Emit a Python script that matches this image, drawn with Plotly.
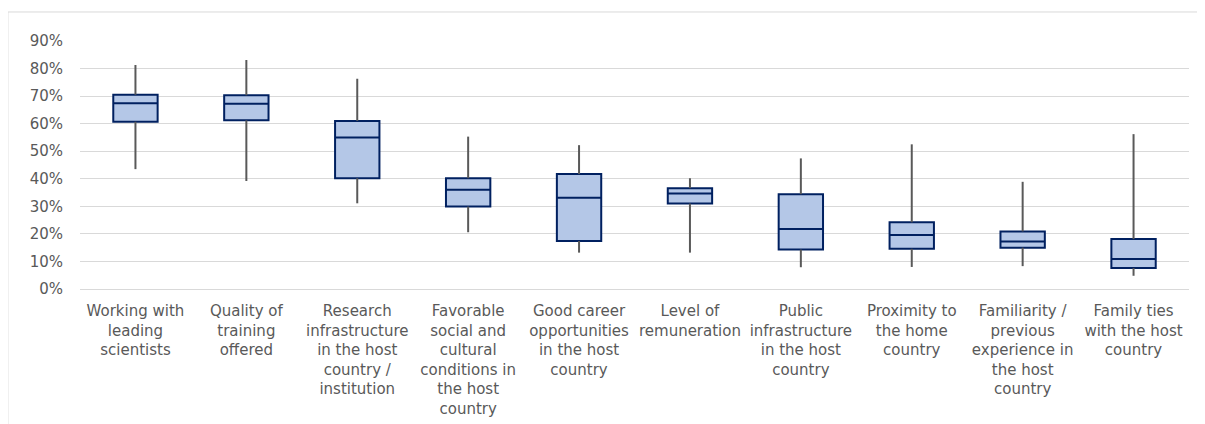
import plotly.graph_objects as go

categories = [
    "Working with<br>leading<br>scientists",
    "Quality of<br>training<br>offered",
    "Research<br>infrastructure<br>in the host<br>country /<br>institution",
    "Favorable<br>social and<br>cultural<br>conditions in<br>the host<br>country",
    "Good career<br>opportunities<br>in the host<br>country",
    "Level of<br>remuneration",
    "Public<br>infrastructure<br>in the host<br>country",
    "Proximity to<br>the home<br>country",
    "Familiarity /<br>previous<br>experience in<br>the host<br>country",
    "Family ties<br>with the host<br>country",
]

# shares (0-1)
low = [0.435, 0.392, 0.311, 0.206, 0.132, 0.132, 0.079, 0.080, 0.083, 0.048]
q1 = [0.607, 0.612, 0.402, 0.299, 0.174, 0.310, 0.143, 0.146, 0.150, 0.076]
median = [0.674, 0.672, 0.550, 0.360, 0.331, 0.347, 0.218, 0.196, 0.172, 0.109]
q3 = [0.705, 0.703, 0.610, 0.402, 0.417, 0.366, 0.344, 0.242, 0.209, 0.181]
high = [0.813, 0.831, 0.763, 0.553, 0.522, 0.402, 0.474, 0.525, 0.389, 0.562]

tick_vals = [i / 10 for i in range(10)]
tick_text = [f"{i * 10}%" for i in range(10)]

# whiskers drawn as gray segments, box on top
wx, wy = [], []
for c, lo, a, b, hi in zip(categories, low, q1, q3, high):
    wx += [c, c, None, c, c, None]
    wy += [lo, a, None, b, hi, None]

fig = go.Figure()
fig.add_trace(go.Scatter(
    x=wx, y=wy, mode="lines",
    line=dict(color="#595959", width=2),
    hoverinfo="skip", showlegend=False,
))
fig.add_trace(go.Box(
    x=categories,
    q1=q1, median=median, q3=q3,
    lowerfence=q1, upperfence=q3,
    width=0.4,
    fillcolor="#B4C7E7",
    line=dict(color="#002060", width=2),
    whiskerwidth=0,
    showlegend=False,
))

# page body adds 8px, so the figure is a little smaller than the window
fig.update_layout(
    width=1197, height=416,
    margin=dict(l=72, r=16, t=33, b=135),
    plot_bgcolor="white", paper_bgcolor="white",
    font=dict(family="DejaVu Sans", size=15, color="#595959"),
    shapes=[
        dict(type="line", xref="paper", yref="paper", x0=-0.065, x1=1.03, y0=1.117, y1=1.117,
             line=dict(color="#D9D9D9", width=1)),
        dict(type="line", xref="paper", yref="paper", x0=-0.065, x1=-0.065, y0=1.117, y1=-0.6,
             line=dict(color="#D9D9D9", width=1)),
    ],
)
fig.update_xaxes(
    type="category", categoryorder="array", categoryarray=categories,
    range=[-0.5, 9.5], showgrid=False, showline=False, ticks="",
    tickangle=0, tickfont=dict(size=15, color="#595959"), ticklabelstandoff=11,
    automargin=False,
)
fig.update_yaxes(
    range=[0, 0.9], tickvals=tick_vals, ticktext=tick_text,
    showgrid=True, gridcolor="#D9D9D9", gridwidth=1,
    zeroline=True, zerolinecolor="#D9D9D9", zerolinewidth=1,
    showline=False, ticks="", ticklabelstandoff=16,
    tickfont=dict(size=15, color="#595959"), automargin=False,
)

fig.write_html("out.html")
